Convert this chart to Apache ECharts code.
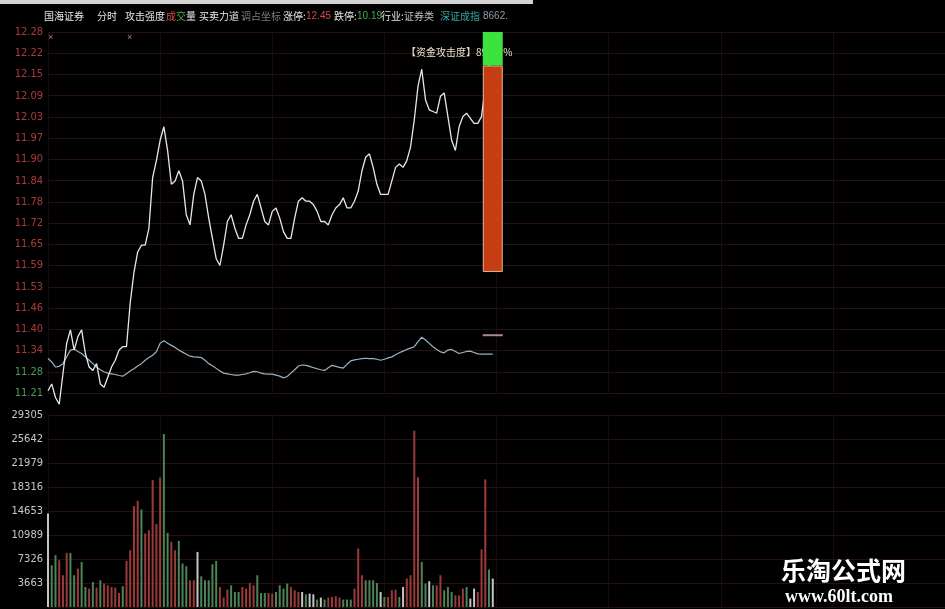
<!DOCTYPE html>
<html>
<head>
<meta charset="utf-8">
<script src="https://cdn.jsdelivr.net/npm/echarts@6/dist/echarts.min.js"></script>
<style>
  html, body { margin: 0; padding: 0; background: #000; }
  #chart { width: 945px; height: 609px; }
</style>
</head>
<body>
<div id="chart"></div>
<script>
// price axis tick labels, top to bottom
const priceTicks = ['12.28', '12.22', '12.15', '12.09', '12.03', '11.97', '11.90', '11.84', '11.78',
  '11.72', '11.65', '11.59', '11.53', '11.46', '11.40', '11.34', '11.28', '11.21']
const priceMin = 11.21325
const priceMax = 12.28

// volume axis tick labels, bottom to top
const volTicks = ['3663', '7326', '10989', '14653', '18316', '21979', '25642', '29305']
const volMax = 29305

// minute prices from 9:30
const price = [
  11.22, 11.24, 11.20, 11.18, 11.27, 11.36, 11.40, 11.34, 11.38, 11.40,
  11.33, 11.29, 11.28, 11.30, 11.24, 11.23, 11.26, 11.29, 11.31, 11.34,
  11.35, 11.35, 11.48, 11.57, 11.63, 11.65, 11.65, 11.70, 11.85, 11.90,
  11.96, 12.00, 11.93, 11.83, 11.84, 11.87, 11.84, 11.74, 11.71, 11.80,
  11.85, 11.84, 11.80, 11.73, 11.67, 11.61, 11.59, 11.65, 11.72, 11.74,
  11.70, 11.67, 11.67, 11.71, 11.74, 11.78, 11.80, 11.76, 11.72, 11.71,
  11.75, 11.76, 11.73, 11.69, 11.67, 11.67, 11.73, 11.78, 11.79, 11.78,
  11.78, 11.77, 11.75, 11.72, 11.72, 11.71, 11.74, 11.76, 11.77, 11.79,
  11.76, 11.76, 11.78, 11.81, 11.87, 11.91, 11.92, 11.88, 11.83, 11.80,
  11.80, 11.80, 11.84, 11.88, 11.89, 11.88, 11.90, 11.94, 12.02, 12.12,
  12.17, 12.08, 12.05, 12.045, 12.04, 12.09, 12.10, 12.03, 11.96, 11.93,
  12.00, 12.03, 12.04, 12.025, 12.01, 12.01, 12.03, 12.12, 12.18, 12.20
]

// average price line
const avgPrice = [
  11.315, 11.305, 11.29, 11.292, 11.30, 11.32, 11.34, 11.343, 11.336, 11.33,
  11.32, 11.31, 11.30, 11.29, 11.282, 11.276, 11.272, 11.27, 11.268, 11.265,
  11.263, 11.27, 11.278, 11.285, 11.293, 11.30, 11.31, 11.318, 11.325, 11.335,
  11.36, 11.368, 11.36, 11.354, 11.348, 11.34, 11.334, 11.328, 11.322, 11.32,
  11.319, 11.318, 11.31, 11.30, 11.294, 11.286, 11.278, 11.272, 11.27, 11.268,
  11.266, 11.266, 11.268, 11.27, 11.273, 11.277, 11.276, 11.272, 11.27, 11.269,
  11.269, 11.266, 11.263, 11.258, 11.262, 11.272, 11.282, 11.293, 11.296, 11.295,
  11.292, 11.288, 11.285, 11.282, 11.28, 11.288, 11.295, 11.292, 11.289, 11.287,
  11.298, 11.308, 11.311, 11.313, 11.315, 11.316, 11.315, 11.315, 11.313, 11.31,
  11.313, 11.317, 11.32, 11.326, 11.332, 11.337, 11.342, 11.346, 11.35, 11.365,
  11.378, 11.37, 11.36, 11.35, 11.342, 11.335, 11.332, 11.34, 11.342, 11.336,
  11.33, 11.333, 11.336, 11.337, 11.333, 11.329, 11.328, 11.328, 11.328, 11.328
]

// minute volume
const volume = [
  14280, 6376, 7905, 7140, 4847, 8257, 8257, 4847, 5871, 6880,
  3058, 2813, 3822, 2966, 4082, 3578, 3318, 3058, 2966, 2140,
  3165, 7033, 8669, 15397, 16207, 14892, 11223, 11727, 19372, 12645,
  19785, 26406, 11315, 9938, 8669, 10091, 6636, 6223, 4082, 4082,
  8410, 4694, 4082, 4082, 6529, 7033, 3058, 1437, 2660, 3318,
  2294, 2294, 3058, 2813, 3670, 3318, 4847, 2140, 2140, 2140,
  2049, 2294, 3318, 2813, 3578, 3058, 2553, 2294, 2294, 1942,
  2049, 1942, 1131, 1437, 1131, 1437, 1529, 1636, 1437, 1131,
  1131, 1131, 2813, 8930, 4847, 4082, 4082, 4082, 3670, 2294,
  1529, 1529, 2553, 2660, 1529, 3058, 4342, 4847, 26910, 19785,
  6880, 3578, 3929, 3318, 3318, 4847, 2553, 3058, 2294, 1789,
  1789, 2813, 3058, 1284, 2813, 2294, 8777, 19479, 5718, 4342
]
// r = up, g = down, w = flat
const volDir = ('wggrrrggrg' + 'grgrgrrrrr' + 'grrrrgrrrr' + 'rggrrgggrr' +
  'wgggggrrrg' + 'ggrrrrgggr' + 'rggggrrrwg' + 'wwgwgrrrrg' +
  'ggrrrggggw' + 'grrrgwrrrr' + 'ggwgrrgggr' + 'rrgwwrrrgw').split('')

// 资金攻击度 indicator
const indicatorLow = 11.571
const indicatorMid = 12.181
const indicatorHigh = 12.28
const indicatorMark = 11.384
const indicatorIndex = 119

// trading minutes of the day
const minutes = []
for (let h = 9, m = 30; minutes.length < 121; ) {
  minutes.push(String(h).padStart(2, '0') + ':' + String(m).padStart(2, '0'))
  m++; if (m === 60) { m = 0; h++ }
}
for (let h = 13, m = 1; minutes.length < 241; ) {
  minutes.push(String(h).padStart(2, '0') + ':' + String(m).padStart(2, '0'))
  m++; if (m === 60) { m = 0; h++ }
}

const dirColor = { r: '#9c3a3a', g: '#4c8458', w: '#c4c4c4' }
const labelFont = "'DejaVu Sans Condensed', 'Liberation Sans Narrow', sans-serif"
const cjkFont = "'Noto Sans CJK SC', sans-serif"
const numFont = "'Liberation Sans', sans-serif"
const gridColor = '#261010'
const vGridColor = '#180c0c'

const header = [
  { x: 44, text: '国海证券', color: '#e6e6e6', font: cjkFont },
  { x: 97, text: '分时', color: '#e6e6e6', font: cjkFont },
  { x: 125, text: '攻击强度', color: '#e6e6e6', font: cjkFont },
  { x: 166, text: '成', color: '#e04a4a', font: cjkFont },
  { x: 176, text: '交', color: '#4aa84a', font: cjkFont },
  { x: 186, text: '量', color: '#e6e6e6', font: cjkFont },
  { x: 199, text: '买卖力道', color: '#e6e6e6', font: cjkFont },
  { x: 241, text: '调占坐标', color: '#7c7c7c', font: cjkFont },
  { x: 283, text: '涨停:', color: '#e6e6e6', font: cjkFont },
  { x: 306, text: '12.45', color: '#d84646', font: numFont },
  { x: 334, text: '跌停:', color: '#e6e6e6', font: cjkFont },
  { x: 357, text: '10.19', color: '#4aa84a', font: numFont },
  { x: 381, text: '行业:', color: '#e6e6e6', font: cjkFont },
  { x: 404, text: '证券类', color: '#b8c0b8', font: cjkFont },
  { x: 440, text: '深证成指', color: '#3aa6a6', font: cjkFont },
  { x: 483, text: '8662.', color: '#8c9aa8', font: numFont }
]

const chart = echarts.init(document.getElementById('chart'))

chart.setOption({
  backgroundColor: '#000000',
  animation: false,
  grid: [
    { left: 48, right: 0, top: 32, height: 361 },
    { left: 48, right: 0, top: 415, bottom: 2 }
  ],
  xAxis: [
    {
      type: 'category', gridIndex: 0, data: minutes, boundaryGap: false,
      axisLine: { show: false }, axisTick: { show: false }, axisLabel: { show: false },
      splitLine: { show: true, interval: (i) => i % 30 === 0, lineStyle: { color: vGridColor } }
    },
    {
      type: 'category', gridIndex: 1, data: minutes, boundaryGap: false,
      axisLine: { show: false }, axisTick: { show: false }, axisLabel: { show: false },
      splitLine: { show: true, interval: (i) => i % 30 === 0, lineStyle: { color: vGridColor } }
    }
  ],
  yAxis: [
    {
      // label axis for the price panel
      type: 'value', gridIndex: 0, min: 0, max: priceTicks.length - 1, interval: 1,
      axisLine: { show: false }, axisTick: { show: false },
      axisLabel: {
        margin: 5, fontSize: 11, fontFamily: labelFont,
        formatter: (v) => priceTicks[priceTicks.length - 1 - v],
        color: (v) => (v >= 2 ? '#ac3a3a' : '#4e9a52')
      },
      splitLine: { show: true, lineStyle: { color: gridColor } }
    },
    {
      type: 'value', gridIndex: 0, min: priceMin, max: priceMax,
      show: false, splitLine: { show: false }
    },
    {
      type: 'value', gridIndex: 1, min: 0, max: volMax, interval: volMax / volTicks.length,
      axisLine: { show: false }, axisTick: { show: false },
      axisLabel: {
        margin: 5, fontSize: 11, fontFamily: labelFont, color: '#c8c8c8',
        showMinLabel: false,
        formatter: (v) => {
          const k = Math.round(v / (volMax / volTicks.length))
          return k === 0 ? '' : volTicks[k - 1]
        }
      },
      splitLine: { show: true, lineStyle: { color: gridColor } }
    }
  ],
  series: [
    {
      name: '均价', type: 'line', xAxisIndex: 0, yAxisIndex: 1, data: avgPrice,
      showSymbol: false, z: 3, clip: false,
      lineStyle: { color: '#98b4c4', width: 1.2 }
    },
    {
      name: '价格', type: 'line', xAxisIndex: 0, yAxisIndex: 1, data: price,
      showSymbol: false, z: 4, clip: false,
      lineStyle: { color: '#e8e8e8', width: 1.3 }
    },
    {
      type: 'bar', xAxisIndex: 0, yAxisIndex: 1, stack: 'ind', barWidth: 20, z: 10,
      data: [[indicatorIndex, indicatorLow]],
      itemStyle: { color: 'rgba(0,0,0,0)' }
    },
    {
      type: 'bar', xAxisIndex: 0, yAxisIndex: 1, stack: 'ind', barWidth: 20, z: 10,
      data: [[indicatorIndex, indicatorMid - indicatorLow]],
      itemStyle: { color: '#c43e12', borderColor: '#e2b4a4', borderWidth: 1 }
    },
    {
      type: 'bar', xAxisIndex: 0, yAxisIndex: 1, stack: 'ind', barWidth: 20, z: 10,
      data: [[indicatorIndex, indicatorHigh - indicatorMid]],
      itemStyle: { color: '#3ee23e' }
    },
    {
      type: 'scatter', xAxisIndex: 0, yAxisIndex: 1, symbol: 'rect', symbolSize: [20, 2], z: 10,
      data: [[indicatorIndex, indicatorMark]],
      itemStyle: { color: '#d8aab2' }
    },
    {
      name: '成交量', type: 'bar', xAxisIndex: 1, yAxisIndex: 2, barWidth: 2,
      data: volume.map((v, i) => ({ value: v, itemStyle: { color: dirColor[volDir[i]] } }))
    }
  ],
  graphic: [
    { type: 'rect', z: 1, shape: { x: 0, y: 0, width: 533, height: 4 }, style: { fill: '#d4d4d4' } },
    ...header.map((h) => ({
      type: 'text', x: h.x, y: 16, z: 1,
      style: { text: h.text, fill: h.color, font: '10px ' + h.font, verticalAlign: 'middle' }
    })),
    { type: 'text', x: 48, y: 38, z: 1, style: { text: '×', fill: '#b070b8', font: '9px sans-serif', verticalAlign: 'middle' } },
    { type: 'text', x: 127, y: 38, z: 1, style: { text: '×', fill: '#b070b8', font: '9px sans-serif', verticalAlign: 'middle' } },
    {
      type: 'text', x: 406, y: 52, z: 1,
      style: { text: '【资金攻击度】89.36 %', fill: '#ece6d0', font: '10px ' + cjkFont, verticalAlign: 'middle' }
    },
    {
      type: 'text', x: 781, y: 570, z: 100,
      style: { text: '乐淘公式网', fill: '#ffffff', font: 'bold 25px ' + cjkFont, verticalAlign: 'middle' }
    },
    {
      type: 'text', x: 785, y: 597, z: 100,
      style: { text: 'www.60lt.com', fill: '#ffffff', font: "bold 18px 'Liberation Serif', 'DejaVu Serif', serif", verticalAlign: 'middle' }
    }
  ]
})
</script>
</body>
</html>
